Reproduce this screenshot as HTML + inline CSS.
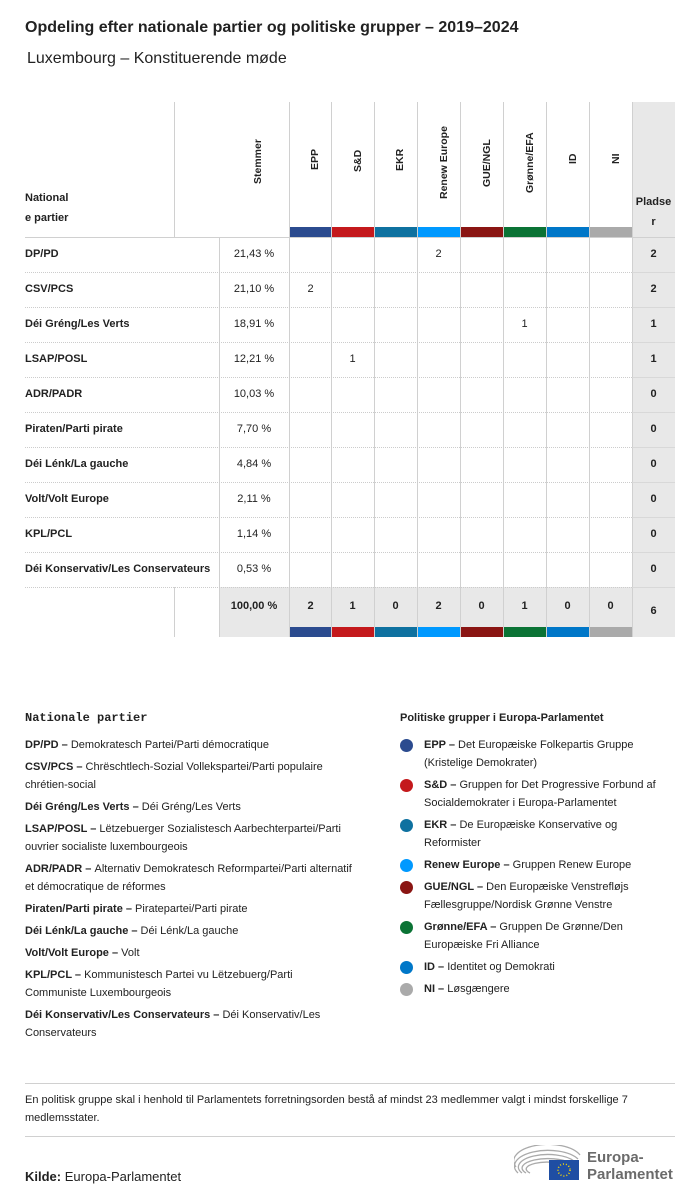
<!DOCTYPE html>
<html><head><meta charset="utf-8"><style>
*{margin:0;padding:0;box-sizing:border-box}
body{width:700px;height:1202px;background:#fff;font-family:"Liberation Sans",sans-serif;color:#222;position:relative;overflow:hidden}
.a{position:absolute}
.vl{position:absolute;width:1px;background:#d0d0d0}
.hl{position:absolute;height:1px;background:#d0d0d0}
.dl{position:absolute;height:0;border-top:1px dotted #ccc}
.rot{position:absolute;transform:rotate(-90deg);transform-origin:left top;font-size:10.5px;font-weight:bold;white-space:nowrap}
.cell{position:absolute;font-size:11px;text-align:center;width:43px}
.pn{position:absolute;left:25px;font-size:11px;font-weight:bold}
.lg{position:absolute;font-size:11px;line-height:18px}
.lg b{font-weight:bold}
.dot{position:absolute;width:13px;height:13px;border-radius:50%}
</style></head><body>
<div class="a" style="left:25px;top:19px;font-size:16px;font-weight:bold">Opdeling efter nationale partier og politiske grupper – 2019–2024</div>
<div class="a" style="left:27px;top:50px;font-size:16px">Luxembourg – Konstituerende møde</div>

<div class="a" style="left:632px;top:102px;width:43px;height:535px;background:#e8e8e8"></div>
<div class="a" style="left:219px;top:587px;width:413px;height:50px;background:#e8e8e8"></div>

<div class="vl" style="left:174px;top:102px;height:135px"></div>
<div class="vl" style="left:174px;top:587px;height:50px"></div>
<div class="vl" style="left:219px;top:237px;height:400px"></div>
<div class="vl" style="left:289px;top:102px;height:535px"></div>
<div class="vl" style="left:331px;top:102px;height:535px"></div>
<div class="vl" style="left:374px;top:102px;height:535px"></div>
<div class="vl" style="left:417px;top:102px;height:535px"></div>
<div class="vl" style="left:460px;top:102px;height:535px"></div>
<div class="vl" style="left:503px;top:102px;height:535px"></div>
<div class="vl" style="left:546px;top:102px;height:535px"></div>
<div class="vl" style="left:589px;top:102px;height:535px"></div>
<div class="vl" style="left:632px;top:102px;height:535px"></div>

<div class="a" style="left:290px;top:227px;width:41px;height:10px;background:#2b4b8f"></div>
<div class="a" style="left:332px;top:227px;width:42px;height:10px;background:#c4191c"></div>
<div class="a" style="left:375px;top:227px;width:42px;height:10px;background:#0e71a0"></div>
<div class="a" style="left:418px;top:227px;width:42px;height:10px;background:#0099ff"></div>
<div class="a" style="left:461px;top:227px;width:42px;height:10px;background:#8a1513"></div>
<div class="a" style="left:504px;top:227px;width:42px;height:10px;background:#0b7335"></div>
<div class="a" style="left:547px;top:227px;width:42px;height:10px;background:#0077c8"></div>
<div class="a" style="left:590px;top:227px;width:42px;height:10px;background:#aaaaaa"></div>

<div class="a" style="left:290px;top:627px;width:41px;height:10px;background:#2b4b8f"></div>
<div class="a" style="left:332px;top:627px;width:42px;height:10px;background:#c4191c"></div>
<div class="a" style="left:375px;top:627px;width:42px;height:10px;background:#0e71a0"></div>
<div class="a" style="left:418px;top:627px;width:42px;height:10px;background:#0099ff"></div>
<div class="a" style="left:461px;top:627px;width:42px;height:10px;background:#8a1513"></div>
<div class="a" style="left:504px;top:627px;width:42px;height:10px;background:#0b7335"></div>
<div class="a" style="left:547px;top:627px;width:42px;height:10px;background:#0077c8"></div>
<div class="a" style="left:590px;top:627px;width:42px;height:10px;background:#aaaaaa"></div>

<div class="pn" style="top:188px;line-height:20px">National<br>e partier</div>
<div class="rot" style="left:252px;top:184px">Stemmer</div>
<div class="rot" style="left:309px;top:170px">EPP</div>
<div class="rot" style="left:352px;top:172px">S&amp;D</div>
<div class="rot" style="left:394px;top:171px">EKR</div>
<div class="rot" style="left:438px;top:199px">Renew Europe</div>
<div class="rot" style="left:481px;top:187px">GUE/NGL</div>
<div class="rot" style="left:524px;top:193px">Grønne/EFA</div>
<div class="rot" style="left:567px;top:164px">ID</div>
<div class="rot" style="left:610px;top:164px">NI</div>
<div class="a" style="left:632px;top:192px;width:43px;text-align:center;font-size:11px;font-weight:bold;line-height:20px">Pladse<br>r</div>

<div class="hl" style="left:25px;top:237px;width:650px"></div>
<div class="dl" style="left:25px;top:272px;width:607px"></div>
<div class="dl" style="left:25px;top:307px;width:607px"></div>
<div class="dl" style="left:25px;top:342px;width:607px"></div>
<div class="dl" style="left:25px;top:377px;width:607px"></div>
<div class="dl" style="left:25px;top:412px;width:607px"></div>
<div class="dl" style="left:25px;top:447px;width:607px"></div>
<div class="dl" style="left:25px;top:482px;width:607px"></div>
<div class="dl" style="left:25px;top:517px;width:607px"></div>
<div class="dl" style="left:25px;top:552px;width:607px"></div>
<div class="dl" style="left:25px;top:587px;width:607px"></div>
<div class="hl" style="left:632px;top:272px;width:43px;background:#d8d8d8"></div>
<div class="hl" style="left:632px;top:307px;width:43px;background:#d8d8d8"></div>
<div class="hl" style="left:632px;top:342px;width:43px;background:#d8d8d8"></div>
<div class="hl" style="left:632px;top:377px;width:43px;background:#d8d8d8"></div>
<div class="hl" style="left:632px;top:412px;width:43px;background:#d8d8d8"></div>
<div class="hl" style="left:632px;top:447px;width:43px;background:#d8d8d8"></div>
<div class="hl" style="left:632px;top:482px;width:43px;background:#d8d8d8"></div>
<div class="hl" style="left:632px;top:517px;width:43px;background:#d8d8d8"></div>
<div class="hl" style="left:632px;top:552px;width:43px;background:#d8d8d8"></div>
<div class="hl" style="left:632px;top:587px;width:43px;background:#d8d8d8"></div>

<div class="pn" style="top:248px">DP/PD</div>
<div class="pn" style="top:283px">CSV/PCS</div>
<div class="pn" style="top:318px">Déi Gréng/Les Verts</div>
<div class="pn" style="top:353px">LSAP/POSL</div>
<div class="pn" style="top:388px">ADR/PADR</div>
<div class="pn" style="top:423px">Piraten/Parti pirate</div>
<div class="pn" style="top:458px">Déi Lénk/La gauche</div>
<div class="pn" style="top:493px">Volt/Volt Europe</div>
<div class="pn" style="top:528px">KPL/PCL</div>
<div class="pn" style="top:563px">Déi Konservativ/Les Conservateurs</div>

<div class="cell" style="left:219px;width:70px;top:248px">21,43 %</div>
<div class="cell" style="left:219px;width:70px;top:283px">21,10 %</div>
<div class="cell" style="left:219px;width:70px;top:318px">18,91 %</div>
<div class="cell" style="left:219px;width:70px;top:353px">12,21 %</div>
<div class="cell" style="left:219px;width:70px;top:388px">10,03 %</div>
<div class="cell" style="left:219px;width:70px;top:423px">7,70 %</div>
<div class="cell" style="left:219px;width:70px;top:458px">4,84 %</div>
<div class="cell" style="left:219px;width:70px;top:493px">2,11 %</div>
<div class="cell" style="left:219px;width:70px;top:528px">1,14 %</div>
<div class="cell" style="left:219px;width:70px;top:563px">0,53 %</div>

<div class="cell" style="left:417px;top:248px">2</div>
<div class="cell" style="left:289px;top:283px">2</div>
<div class="cell" style="left:503px;top:318px">1</div>
<div class="cell" style="left:331px;top:353px">1</div>

<div class="cell" style="left:632px;top:248px;font-weight:bold">2</div>
<div class="cell" style="left:632px;top:283px;font-weight:bold">2</div>
<div class="cell" style="left:632px;top:318px;font-weight:bold">1</div>
<div class="cell" style="left:632px;top:353px;font-weight:bold">1</div>
<div class="cell" style="left:632px;top:388px;font-weight:bold">0</div>
<div class="cell" style="left:632px;top:423px;font-weight:bold">0</div>
<div class="cell" style="left:632px;top:458px;font-weight:bold">0</div>
<div class="cell" style="left:632px;top:493px;font-weight:bold">0</div>
<div class="cell" style="left:632px;top:528px;font-weight:bold">0</div>
<div class="cell" style="left:632px;top:563px;font-weight:bold">0</div>

<div class="cell" style="left:219px;width:70px;top:600px;font-weight:bold">100,00 %</div>
<div class="cell" style="left:289px;top:600px;font-weight:bold">2</div>
<div class="cell" style="left:331px;top:600px;font-weight:bold">1</div>
<div class="cell" style="left:374px;top:600px;font-weight:bold">0</div>
<div class="cell" style="left:417px;top:600px;font-weight:bold">2</div>
<div class="cell" style="left:460px;top:600px;font-weight:bold">0</div>
<div class="cell" style="left:503px;top:600px;font-weight:bold">1</div>
<div class="cell" style="left:546px;top:600px;font-weight:bold">0</div>
<div class="cell" style="left:589px;top:600px;font-weight:bold">0</div>
<div class="cell" style="left:632px;top:605px;font-weight:bold">6</div>

<div class="a" style="left:25px;top:711px;font-family:'Liberation Mono',monospace;font-size:12px;font-weight:bold">Nationale partier</div>
<div class="lg" style="left:25px;top:736px;width:332px">
<div style="margin-bottom:4px"><b>DP/PD – </b>Demokratesch Partei/Parti démocratique</div>
<div style="margin-bottom:4px"><b>CSV/PCS – </b>Chrëschtlech-Sozial Vollekspartei/Parti populaire chrétien-social</div>
<div style="margin-bottom:4px"><b>Déi Gréng/Les Verts – </b>Déi Gréng/Les Verts</div>
<div style="margin-bottom:4px"><b>LSAP/POSL – </b>Lëtzebuerger Sozialistesch Aarbechterpartei/Parti ouvrier socialiste luxembourgeois</div>
<div style="margin-bottom:4px"><b>ADR/PADR – </b>Alternativ Demokratesch Reformpartei/Parti alternatif et démocratique de réformes</div>
<div style="margin-bottom:4px"><b>Piraten/Parti pirate – </b>Piratepartei/Parti pirate</div>
<div style="margin-bottom:4px"><b>Déi Lénk/La gauche – </b>Déi Lénk/La gauche</div>
<div style="margin-bottom:4px"><b>Volt/Volt Europe – </b>Volt</div>
<div style="margin-bottom:4px"><b>KPL/PCL – </b>Kommunistesch Partei vu Lëtzebuerg/Parti Communiste Luxembourgeois</div>
<div><b>Déi Konservativ/Les Conservateurs – </b>Déi Konservativ/Les Conservateurs</div>
</div>

<div class="a" style="left:400px;top:712px;font-size:11px;font-weight:bold">Politiske grupper i Europa-Parlamentet</div>
<div class="dot" style="left:400px;top:739px;background:#2b4b8f"></div>
<div class="lg" style="left:424px;top:736px;width:230px"><b>EPP – </b>Det Europæiske Folkepartis Gruppe (Kristelige Demokrater)</div>
<div class="dot" style="left:400px;top:779px;background:#c4191c"></div>
<div class="lg" style="left:424px;top:776px;width:232px"><b>S&amp;D – </b>Gruppen for Det Progressive Forbund af Socialdemokrater i Europa-Parlamentet</div>
<div class="dot" style="left:400px;top:819px;background:#0e71a0"></div>
<div class="lg" style="left:424px;top:816px;width:230px"><b>EKR – </b>De Europæiske Konservative og Reformister</div>
<div class="dot" style="left:400px;top:859px;background:#0099ff"></div>
<div class="lg" style="left:424px;top:856px;width:250px"><b>Renew Europe – </b>Gruppen Renew Europe</div>
<div class="dot" style="left:400px;top:881px;background:#8a1513"></div>
<div class="lg" style="left:424px;top:878px;width:232px"><b>GUE/NGL – </b>Den Europæiske Venstrefløjs Fællesgruppe/Nordisk Grønne Venstre</div>
<div class="dot" style="left:400px;top:921px;background:#0b7335"></div>
<div class="lg" style="left:424px;top:918px;width:230px"><b>Grønne/EFA – </b>Gruppen De Grønne/Den Europæiske Fri Alliance</div>
<div class="dot" style="left:400px;top:961px;background:#0077c8"></div>
<div class="lg" style="left:424px;top:958px;width:250px"><b>ID – </b>Identitet og Demokrati</div>
<div class="dot" style="left:400px;top:983px;background:#aaaaaa"></div>
<div class="lg" style="left:424px;top:980px;width:250px"><b>NI – </b>Løsgængere</div>

<div class="hl" style="left:25px;top:1083px;width:650px"></div>
<div class="lg" style="left:25px;top:1091px;width:612px">En politisk gruppe skal i henhold til Parlamentets forretningsorden bestå af mindst 23 medlemmer valgt i mindst forskellige 7 medlemsstater.</div>
<div class="hl" style="left:25px;top:1136px;width:650px"></div>
<div class="a" style="left:25px;top:1169px;font-size:13px"><b>Kilde:</b> Europa-Parlamentet</div>

<svg class="a" style="left:514px;top:1145px" width="70" height="40" viewBox="0 0 70 40">
<g fill="none" stroke="#aaa" stroke-width="1.3">
<path d="M4 28 A30 14 0 0 1 64 14"/><path d="M8 28 A26 11 0 0 1 60 16"/><path d="M12 28 A22 8 0 0 1 56 18"/><path d="M16 28 A18 6 0 0 1 50 20"/><path d="M2 22 A33 16 0 0 1 66 10"/>
</g>
<rect x="35" y="15" width="30" height="20" fill="#1f4ea3"/>
<circle cx="50" cy="25" r="6" fill="none" stroke="#ffdd00" stroke-width="1.5" stroke-dasharray="1 2"/>
</svg>
<div class="a" style="left:587px;top:1149px;font-size:15px;line-height:17px;color:#6b6b6b;font-weight:bold">Europa-<br>Parlamentet</div>
</body></html>
